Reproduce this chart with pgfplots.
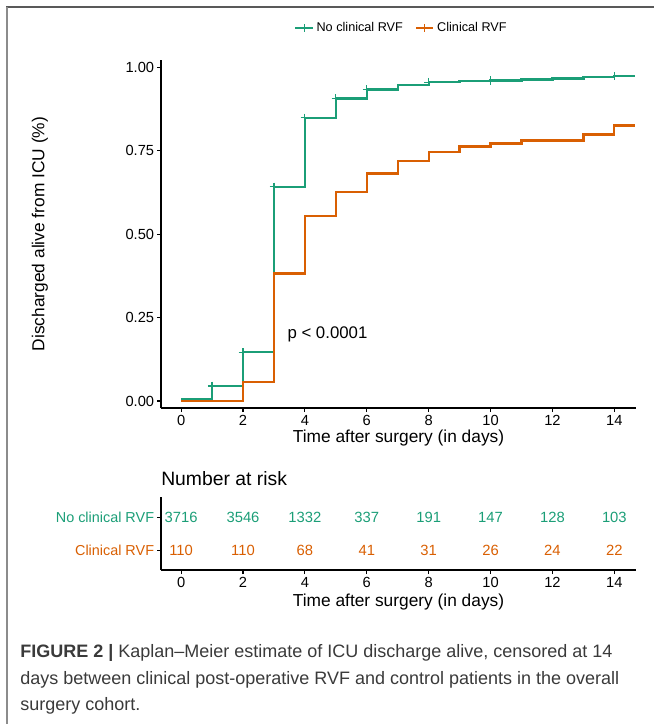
\documentclass[border=0pt]{standalone}
\usepackage{fontspec}
\setmainfont{Liberation Sans}
\usepackage{pgfplots}
\pgfplotsset{compat=1.18}
\usepackage{pgfplotstable}
\definecolor{norvf}{HTML}{1B9E77}
\definecolor{rvf}{HTML}{D95F02}
\definecolor{capgray}{HTML}{3A3A3A}

\pgfplotstableread{
t s
0 0.005
1 0.045
2 0.146
3 0.642
4 0.849
5 0.907
6 0.934
7 0.948
8 0.956
9 0.959
10 0.961
11 0.964
12 0.967
13 0.971
14 0.974
14.68 0.974
}\greendata

\pgfplotstableread{
t s
0 0.000
2 0.056
3 0.382
4 0.555
5 0.627
6 0.682
7 0.719
8 0.746
9 0.763
10 0.772
11 0.781
13 0.799
14 0.826
14.68 0.826
}\orangedata

\pgfplotstableread{
t s
1 0.045
2 0.146
3 0.642
4 0.849
5 0.907
6 0.934
8 0.956
10 0.961
14 0.974
}\greencens

\pgfplotstableread{
x y n
0 2 3716
2 2 3546
4 2 1332
6 2 337
8 2 191
10 2 147
12 2 128
14 2 103
}\riskgreen

\pgfplotstableread{
x y n
0 1 110
2 1 110
4 1 68
6 1 41
8 1 31
10 1 26
12 1 24
14 1 22
}\riskorange

\pgfplotsset{
  kmstyle/.style={
    scale only axis, width=356.25pt,
    xmin=-0.65, xmax=14.7,
    axis x line*=bottom, axis y line*=left,
    axis line style={line width=0.8pt,-},
    tick align=outside, major tick length=3pt,
    tick style={line width=0.8pt,black},
    xtick={0,2,...,14},
    /pgf/number format/assume math mode=true,
    ticklabel style={font=\fontsize{11}{12}\selectfont, inner sep=2pt},
    label style={font=\fontsize{13}{15}\selectfont},
    clip=false,
  }
}

\begin{document}
\begin{tikzpicture}
\useasboundingbox (0,0) rectangle (490.5pt,-543pt);
\begin{scope}[x=0.75pt,y=-0.75pt]
\draw[black!65, line width=1.4pt] (6,7) -- (654,7);
\draw[black!45, line width=1.4pt] (7,7) -- (7,724);
\node[anchor=west, inner sep=0pt, font=\fontsize{14.5}{16}\selectfont] at (161,479) {Number at risk};
\node[anchor=base west, inner sep=0pt, text=capgray, font=\fontsize{13.5}{16}\selectfont] at (20,657) {\textbf{FIGURE 2 |} Kaplan--Meier estimate of ICU discharge alive, censored at 14};
\node[anchor=base west, inner sep=0pt, text=capgray, font=\fontsize{13.5}{16}\selectfont] at (20,684) {days between clinical post-operative RVF and control patients in the overall};
\node[anchor=base west, inner sep=0pt, text=capgray, font=\fontsize{13.5}{16}\selectfont] at (20,710) {surgery cohort.};
\end{scope}

\begin{axis}[kmstyle,
  at={(120.75pt,-306pt)}, anchor=south west,
  height=261pt,
  ymin=-0.021, ymax=1.0225,
  ytick={0,0.25,0.5,0.75,1},
  yticklabels={0.00,0.25,0.50,0.75,1.00},
  xlabel={Time after surgery (in days)},
  ylabel={Discharged alive from ICU (\%)},
  xlabel style={at={(axis description cs:0.5,-0.0862)}, anchor=center},
  ylabel style={at={(axis description cs:-0.255,0.5)}, anchor=center},
  legend columns=2,
  legend style={at={(axis description cs:0.507,1.092)}, anchor=center, draw=none, fill=none,
    font=\fontsize{9.5}{11}\selectfont,
    /tikz/every even column/.append style={column sep=7pt}},
  legend image code/.code={\draw[#1, line width=1.7pt] (0pt,0pt) -- (13pt,0pt); \draw[#1, line width=0.9pt] (6.5pt,-3pt) -- (6.5pt,3pt);},
]
\addplot[const plot, norvf, line width=1.7pt] table[x=t,y=s] {\greendata};
\addlegendentry{No clinical RVF}
\addplot[const plot, rvf, line width=1.7pt] table[x=t,y=s] {\orangedata};
\addlegendentry{Clinical RVF}
\addplot[only marks, mark=+, mark size=3.2pt, norvf, line width=0.9pt, forget plot] table[x=t,y=s] {\greencens};
\node[anchor=west, inner sep=0pt, font=\fontsize{12.6}{14}\selectfont] at (axis cs:3.43,0.2) {p < 0.0001};
\end{axis}

\begin{axis}[kmstyle,
  at={(120.75pt,-427.5pt)}, anchor=south west,
  height=54.75pt,
  ymin=0.415, ymax=2.627,
  ytick={1,2},
  yticklabels={\textcolor{rvf}{Clinical RVF},\textcolor{norvf}{No clinical RVF}},
  yticklabel style={font=\fontsize{10.8}{12}\selectfont},
  xlabel={Time after surgery (in days)},
  xlabel style={at={(axis description cs:0.5,-0.434)}, anchor=center},
]
\addplot[draw=none, nodes near coords, point meta=explicit symbolic,
  every node near coord/.append style={anchor=center, text=norvf, font=\fontsize{11.1}{13}\selectfont}]
  table[x=x,y=y,meta=n] {\riskgreen};
\addplot[draw=none, nodes near coords, point meta=explicit symbolic,
  every node near coord/.append style={anchor=center, text=rvf, font=\fontsize{11.1}{13}\selectfont}]
  table[x=x,y=y,meta=n] {\riskorange};
\end{axis}
\end{tikzpicture}
\end{document}
